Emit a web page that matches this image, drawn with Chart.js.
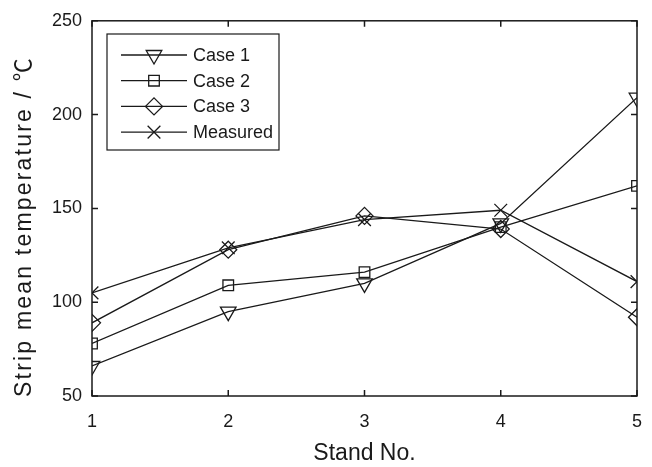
<!DOCTYPE html>
<html>
<head>
<meta charset="utf-8">
<script src="https://cdn.jsdelivr.net/npm/chart.js@4"></script>
<style>
  body { margin: 0; background: #fff; }
  #wrap { width: 652px; height: 467px; }
</style>
</head>
<body>
<div id="wrap"><canvas id="tempChart"></canvas></div>
<script>
var stands = [1, 2, 3, 4, 5];
var case1 = [66, 95, 110, 142, 209];
var case2 = [78, 109, 116, 140, 162];
var case3 = [89, 128, 146, 139, 92];
var measured = [105, 129, 144, 149, 111];
var yTicks = [50, 100, 150, 200, 250];
var yTitle = 'Strip mean temperature / ℃';

var ink = '#1a1a1a';
var fontName = '"Liberation Sans", "Noto Sans CJK SC", Arial, sans-serif';

function pts(vals) {
    return stands.map(function (s, i) { return { x: s, y: vals[i] }; });
}

function series(label, vals, style, radius, rot) {
    return {
        label: label,
        data: pts(vals),
        borderColor: ink,
        backgroundColor: 'transparent',
        borderWidth: 1.3,
        pointStyle: style,
        pointRadius: radius,
        pointRotation: rot,
        pointBorderColor: ink,
        pointBorderWidth: 1.3,
        pointBackgroundColor: 'transparent',
        tension: 0
    };
}

// box + inward ticks + legend + y title, like the matlab look
var framePlugin = {
    id: 'frame',
    afterDraw: function (chart) {
        var c = chart.ctx, a = chart.chartArea;
        var xs = chart.scales.x, ys = chart.scales.y;
        c.save();
        c.strokeStyle = ink;
        c.lineWidth = 1.5;
        c.strokeRect(a.left, a.top, a.right - a.left, a.bottom - a.top);
        var t = 6;
        c.beginPath();
        stands.forEach(function (s) {
            var px = xs.getPixelForValue(s);
            c.moveTo(px, a.bottom); c.lineTo(px, a.bottom - t);
            c.moveTo(px, a.top); c.lineTo(px, a.top + t);
        });
        yTicks.forEach(function (v) {
            var py = ys.getPixelForValue(v);
            c.moveTo(a.left, py); c.lineTo(a.left + t, py);
            c.moveTo(a.right, py); c.lineTo(a.right - t, py);
        });
        c.stroke();

        // legend
        var lx = 107, ly = 34, lw = 172, lh = 116;
        c.fillStyle = '#fff';
        c.fillRect(lx, ly, lw, lh);
        c.lineWidth = 1.2;
        c.strokeRect(lx, ly, lw, lh);
        c.font = '18px ' + fontName;
        c.textBaseline = 'middle';
        chart.data.datasets.forEach(function (ds, i) {
            var yy = 55 + i * 25.7;
            c.beginPath();
            c.lineWidth = 1.3;
            c.moveTo(121, yy); c.lineTo(187, yy);
            c.stroke();
            c.fillStyle = 'rgba(0,0,0,0)';
            Chart.helpers.drawPoint(c, {
                pointStyle: ds.pointStyle,
                radius: ds.pointRadius,
                rotation: ds.pointRotation,
                borderWidth: 1.3
            }, 154, yy);
            c.fillStyle = ink;
            c.fillText(ds.label, 193, yy + 1);
        });

        // y title (wider spacing than chart.js title allows)
        c.translate(25, a.bottom + 1);
        c.rotate(-Math.PI / 2);
        c.font = '23px ' + fontName;
        c.letterSpacing = '2.2px';
        c.textAlign = 'left';
        c.textBaseline = 'middle';
        c.fillText(yTitle, 0, 0);
        c.restore();
    }
};

var ctx = document.getElementById('tempChart').getContext('2d');
var myChart = new Chart(ctx, {
    type: 'line',
    data: {
        datasets: [
            series('Case 1', case1, 'triangle', 9, 180),
            series('Case 2', case2, 'rect', 7.5, 0),
            series('Case 3', case3, 'rectRot', 8.5, 0),
            series('Measured', measured, 'crossRot', 9, 0)
        ]
    },
    options: {
        responsive: true,
        maintainAspectRatio: false,
        animation: false,
        layout: { padding: { left: 0, top: 17, right: 15, bottom: 0 } },
        plugins: {
            legend: { display: false },
            tooltip: { enabled: false }
        },
        scales: {
            x: {
                type: 'linear',
                min: 1,
                max: 5,
                afterFit: function (s) {
                    s.height = 71;
                    s.paddingLeft = 0;
                    s.paddingRight = 0;
                },
                afterBuildTicks: function (s) {
                    s.ticks = stands.map(function (v) { return { value: v }; });
                },
                grid: { display: false, drawTicks: false },
                border: { display: false },
                ticks: { color: ink, padding: 15, font: { size: 18, family: fontName } },
                title: {
                    display: true,
                    text: 'Stand No.',
                    color: ink,
                    padding: { top: 2, bottom: 0 },
                    font: { size: 23, family: fontName }
                }
            },
            y: {
                min: 50,
                max: 250,
                afterFit: function (s) { s.width = 92; },
                afterBuildTicks: function (s) {
                    s.ticks = yTicks.map(function (v) { return { value: v }; });
                },
                grid: { display: false, drawTicks: false },
                border: { display: false },
                ticks: { color: ink, padding: 10, font: { size: 18, family: fontName } }
            }
        }
    },
    plugins: [framePlugin]
});
</script>
</body>
</html>
